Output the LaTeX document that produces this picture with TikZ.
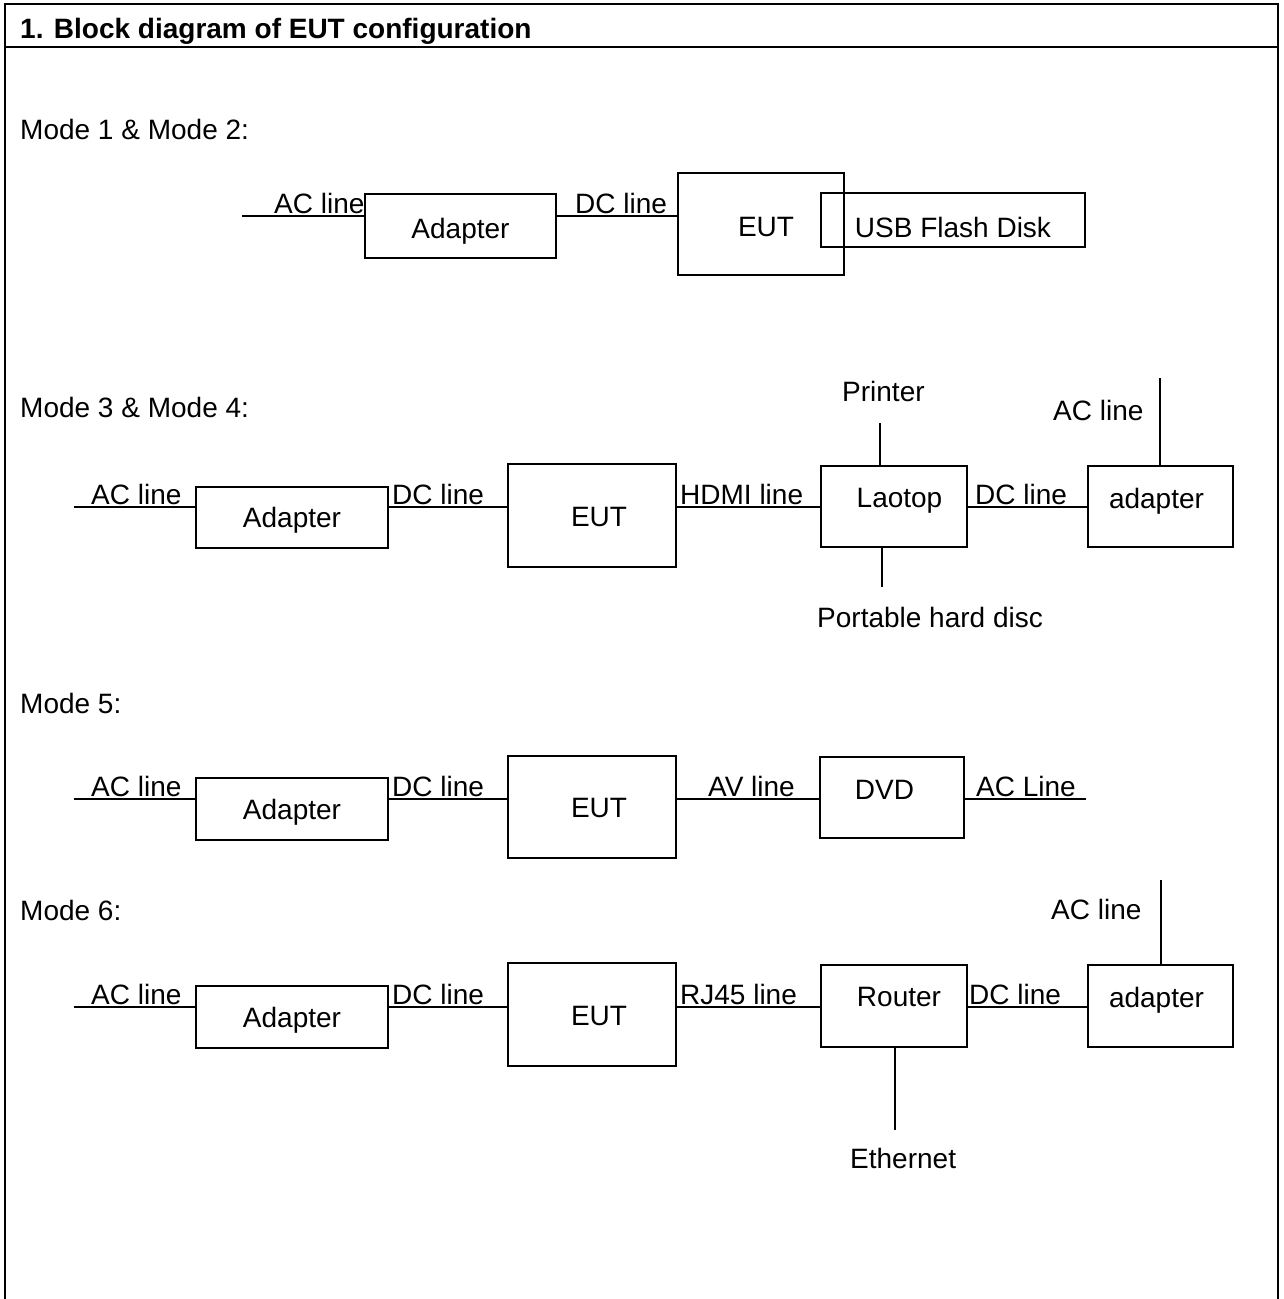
\documentclass[tikz,border=0pt]{standalone}
\usepackage{fontspec}
\setmainfont{Liberation Sans}
\newcommand{\txtshift}[3]{\raisebox{#2}[\height][\depth]{\kern#1 #3\kern-#1}}
\begin{document}
\begin{tikzpicture}[x=1pt,y=-1pt,
  box/.style={draw, line width=1.6pt, inner sep=0pt, font=\fontsize{28}{32}\selectfont},
  lbl/.style={inner sep=0pt, anchor=base west, font=\fontsize{28}{32}\selectfont},
  ttl/.style={inner sep=0pt, anchor=base west, font=\fontsize{28}{32}\selectfont\bfseries},
  wire/.style={line width=1.6pt},
  frame/.style={line width=2.2pt}]
\useasboundingbox (0,0) rectangle (1283,1299);
% frame
\draw[frame] (5,1299) -- (5,4) -- (1278,4) -- (1278,1299);
\draw[frame] (5,47) -- (1278,47);
\node[ttl] (title) at (20,38) {1. Block diagram of EUT configuration};

% ---------- Mode 1 & 2
\node[lbl] (m12) at (20,139) {Mode 1 \& Mode 2:};
\coordinate (ac1) at (242,216);
\node[box, minimum width=191pt, minimum height=64pt] (a1) at (460.5,226) {\txtshift{0pt}{-5pt}{Adapter}};
\node[box, minimum width=166pt, minimum height=102pt] (e1) at (761,224) {\txtshift{5pt}{-3pt}{EUT}};
\node[box, minimum width=264pt, minimum height=54pt] (u1) at (953,220) {\txtshift{0pt}{-7pt}{USB Flash Disk}};
\draw[wire] (ac1) -- (ac1 -| a1.west);
\draw[wire] (ac1 -| a1.east) -- (ac1 -| e1.west);
\node[lbl] (l1a) at (274,213) {AC line};
\node[lbl] (l1b) at (575,213) {DC line};

% ---------- Mode 3 & 4
\node[lbl] (m34) at (20,417) {Mode 3 \& Mode 4:};
\coordinate (ac3) at (74,507);
\node[box, minimum width=192pt, minimum height=61pt] (a3) at (292,517.5) {\txtshift{0pt}{-3pt}{Adapter}};
\node[box, minimum width=168pt, minimum height=103pt] (e3) at (592,515.5) {\txtshift{7pt}{-1pt}{EUT}};
\node[box, minimum width=146pt, minimum height=81pt] (l3) at (894,506.5) {\txtshift{5.5pt}{5.5pt}{Laotop}};
\node[box, minimum width=145pt, minimum height=81pt] (p3) at (1160.5,506.5) {\txtshift{-4pt}{5.5pt}{adapter}};
\draw[wire] (ac3) -- (ac3 -| a3.west);
\draw[wire] (ac3 -| a3.east) -- (ac3 -| e3.west);
\draw[wire] (ac3 -| e3.east) -- (ac3 -| l3.west);
\draw[wire] (ac3 -| l3.east) -- (ac3 -| p3.west);
\coordinate (pr3) at (880,423);
\coordinate (hd3) at (882,587);
\coordinate (acp3) at (1160,378);
\draw[wire] (pr3) -- (pr3 |- l3.north);
\draw[wire] (hd3 |- l3.south) -- (hd3);
\draw[wire] (acp3) -- (acp3 |- p3.north);
\node[lbl] (l3a) at (91,504) {AC line};
\node[lbl] (l3b) at (392,504) {DC line};
\node[lbl] (l3c) at (680,504) {HDMI line};
\node[lbl] (l3d) at (975,504) {DC line};
\node[lbl] (l3e) at (842,401) {Printer};
\node[lbl] (l3f) at (817,627) {Portable hard disc};
\node[lbl] (l3g) at (1053,420) {AC line};

% ---------- Mode 5
\node[lbl] (m5) at (20,713) {Mode 5:};
\coordinate (ac5) at (74,799);
\coordinate (ac5r) at (1086,799);
\node[box, minimum width=192pt, minimum height=62pt] (a5) at (292,809) {\txtshift{0pt}{-3pt}{Adapter}};
\node[box, minimum width=168pt, minimum height=102pt] (e5) at (592,807) {\txtshift{7pt}{-1pt}{EUT}};
\node[box, minimum width=144pt, minimum height=81pt] (d5) at (892,797.5) {\txtshift{-7.5pt}{7.5pt}{DVD}};
\draw[wire] (ac5) -- (ac5 -| a5.west);
\draw[wire] (ac5 -| a5.east) -- (ac5 -| e5.west);
\draw[wire] (ac5 -| e5.east) -- (ac5 -| d5.west);
\draw[wire] (ac5 -| d5.east) -- (ac5r);
\node[lbl] (l5a) at (91,796) {AC line};
\node[lbl] (l5b) at (392,796) {DC line};
\node[lbl] (l5c) at (708,796) {AV line};
\node[lbl] (l5d) at (976,796) {AC Line};

% ---------- Mode 6
\node[lbl] (m6) at (20,920) {Mode 6:};
\coordinate (ac6) at (74,1007);
\node[box, minimum width=192pt, minimum height=62pt] (a6) at (292,1017) {\txtshift{0pt}{-3pt}{Adapter}};
\node[box, minimum width=168pt, minimum height=103pt] (e6) at (592,1014.5) {\txtshift{7pt}{-1pt}{EUT}};
\node[box, minimum width=146pt, minimum height=82pt] (r6) at (894,1006) {\txtshift{5pt}{9pt}{Router}};
\node[box, minimum width=145pt, minimum height=82pt] (p6) at (1160.5,1006) {\txtshift{-4pt}{6pt}{adapter}};
\draw[wire] (ac6) -- (ac6 -| a6.west);
\draw[wire] (ac6 -| a6.east) -- (ac6 -| e6.west);
\draw[wire] (ac6 -| e6.east) -- (ac6 -| r6.west);
\draw[wire] (ac6 -| r6.east) -- (ac6 -| p6.west);
\coordinate (et6) at (895,1130);
\coordinate (acp6) at (1161,880);
\draw[wire] (et6 |- r6.south) -- (et6);
\draw[wire] (acp6) -- (acp6 |- p6.north);
\node[lbl] (l6a) at (91,1004) {AC line};
\node[lbl] (l6b) at (392,1004) {DC line};
\node[lbl] (l6c) at (680,1004) {RJ45 line};
\node[lbl] (l6d) at (969,1004) {DC line};
\node[lbl] (l6e) at (850,1168) {Ethernet};
\node[lbl] (l6f) at (1051,919) {AC line};
\end{tikzpicture}
\end{document}
